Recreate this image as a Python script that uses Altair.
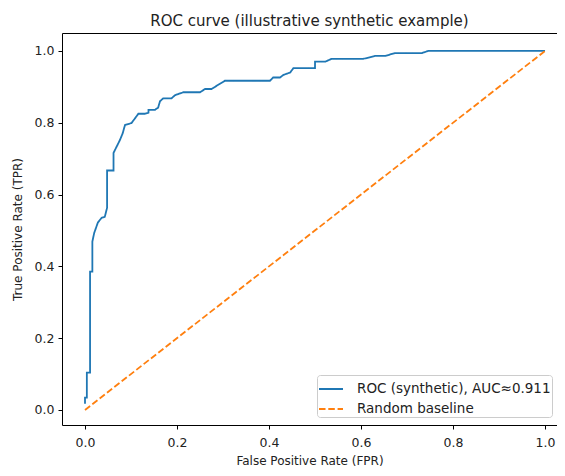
import altair as alt
import pandas as pd

# ROC curve
fpr = [0.0, 0.0, 0.004, 0.004, 0.011, 0.011, 0.016, 0.016, 0.020, 0.028,
       0.036, 0.043, 0.048, 0.048, 0.062, 0.062, 0.076, 0.082, 0.087, 0.101,
       0.116, 0.130, 0.138, 0.138, 0.152, 0.159, 0.163, 0.170, 0.188, 0.196,
       0.214, 0.250, 0.261, 0.275, 0.304, 0.402, 0.409, 0.424, 0.431, 0.446,
       0.453, 0.500, 0.500, 0.522, 0.536, 0.605, 0.630, 0.652, 0.674, 0.732,
       0.746, 1.0]
tpr = [0.017, 0.034, 0.034, 0.104, 0.104, 0.385, 0.385, 0.469, 0.493, 0.522,
       0.535, 0.538, 0.563, 0.667, 0.667, 0.716, 0.752, 0.771, 0.794, 0.799,
       0.825, 0.825, 0.828, 0.836, 0.836, 0.842, 0.860, 0.868, 0.868, 0.877,
       0.885, 0.885, 0.894, 0.894, 0.917, 0.917, 0.926, 0.926, 0.933, 0.940,
       0.952, 0.952, 0.970, 0.970, 0.978, 0.978, 0.986, 0.986, 0.994, 0.994,
       1.0, 1.0]

base_fpr = [0.0, 1.0]
base_tpr = [0.0, 1.0]

roc_label = "ROC (synthetic), AUC\u22480.911"
base_label = "Random baseline"
series = [roc_label, base_label]
colors = ["#1f77b4", "#ff7f0e"]
ticks = [0.0, 0.2, 0.4, 0.6, 0.8, 1.0]

df = pd.concat([
    pd.DataFrame({"fpr": fpr, "tpr": tpr, "series": roc_label,
                  "order": list(range(len(fpr)))}),
    pd.DataFrame({"fpr": base_fpr, "tpr": base_tpr, "series": base_label,
                  "order": [0, 1]}),
])

FONT = "DejaVu Sans"

legend = alt.Legend(
    title=None, orient="none", legendX=255, legendY=342,
    symbolType="stroke", symbolSize=576, symbolStrokeWidth=2,
    labelFont=FONT, labelFontSize=13.5, labelColor="#222", labelOffset=13,
    labelLimit=0,
    strokeColor="#cccccc", fillColor="white", padding=1, cornerRadius=3,
    rowPadding=-4,
)

chart = alt.Chart(df).mark_line(strokeWidth=1.8).encode(
    x=alt.X("fpr:Q",
            scale=alt.Scale(domain=[-0.05, 1.026], nice=False, zero=False),
            axis=alt.Axis(values=ticks, format=".1f", title="False Positive Rate (FPR)",
                          titlePadding=7, labelPadding=7)),
    y=alt.Y("tpr:Q",
            scale=alt.Scale(domain=[-0.042, 1.05], nice=False, zero=False),
            axis=alt.Axis(values=ticks, format=".1f", title="True Positive Rate (TPR)",
                          titlePadding=10)),
    color=alt.Color("series:N", scale=alt.Scale(domain=series, range=colors),
                    legend=legend),
    strokeDash=alt.StrokeDash("series:N",
                              scale=alt.Scale(domain=series, range=[[1, 0], [6.5, 2.8]]),
                              legend=legend),
    order="order:Q",
).properties(
    width=495, height=392,
    title=alt.Title("ROC curve (illustrative synthetic example)", font=FONT,
                    fontSize=15, fontWeight="normal", color="#222", offset=4),
    autosize=alt.AutoSizeParams(type="none"),
    padding={"left": 54, "top": 25, "right": 0, "bottom": 43},
).configure_view(
    stroke="black", strokeWidth=1,
).configure_axis(
    grid=False, domain=False, tickSize=4, tickColor="black", tickWidth=1,
    labelFont=FONT, labelFontSize=12.5, labelColor="#222", labelPadding=4,
    titleFont=FONT, titleFontSize=12, titleFontWeight="normal", titleColor="#222",
)

chart.save("out.html", embed_options={"renderer": "svg", "actions": False})
